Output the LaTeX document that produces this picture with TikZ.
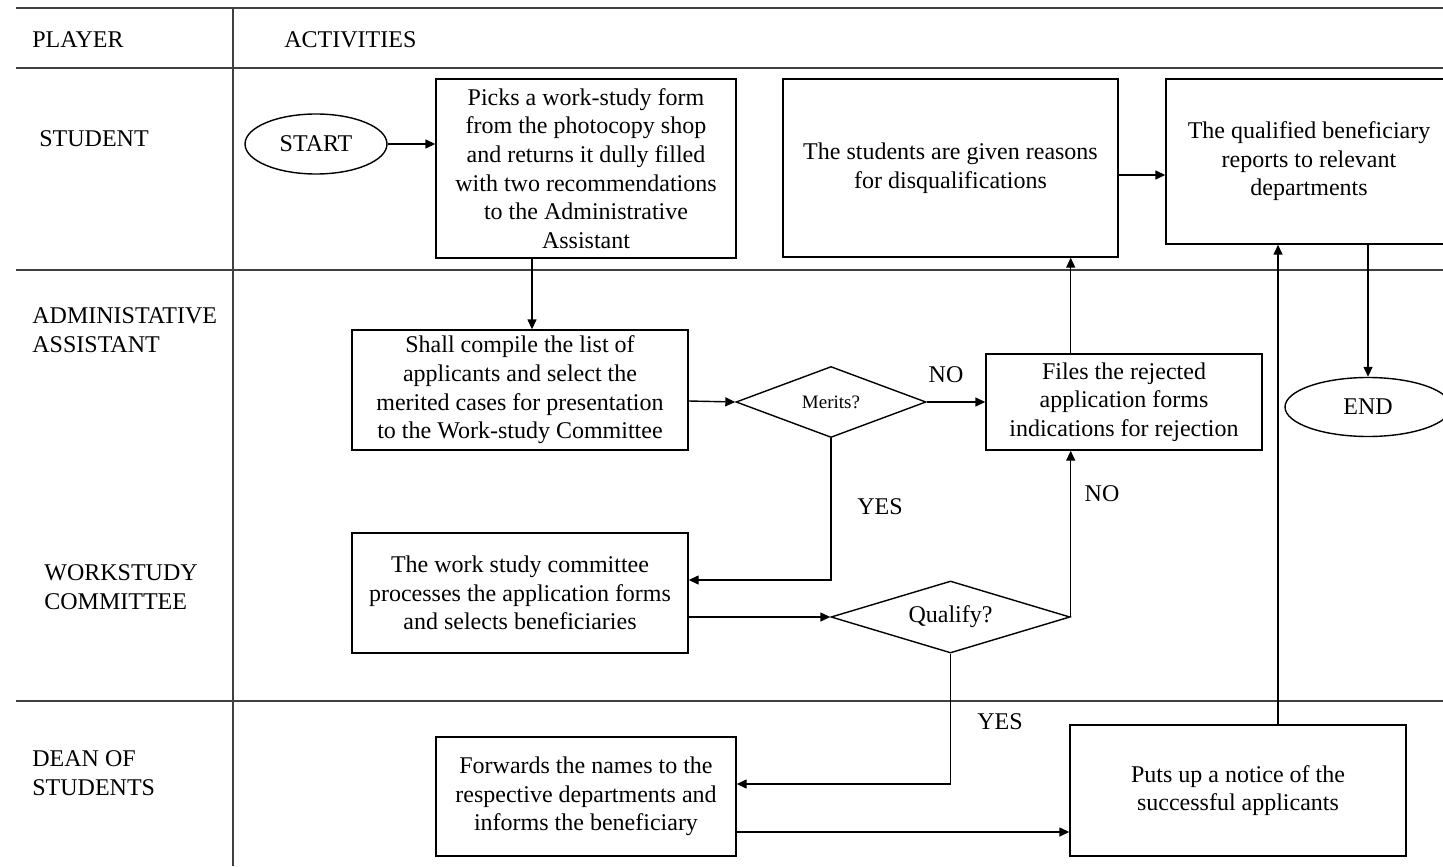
\documentclass[tikz,border=0pt]{standalone}
\usepackage{fontspec}
\setmainfont{Liberation Serif}
\usetikzlibrary{shapes.geometric,arrows.meta}
\begin{document}
\begin{tikzpicture}[x=0.5pt,y=-0.5pt,
  every node/.style={font=\fontsize{12}{14.3}\selectfont, text=black},
  lane/.style={draw=black!75, line width=1pt},
  box/.style={draw, line width=0.7pt, rectangle, align=center, inner sep=0pt},
  oval/.style={draw, line width=0.7pt, ellipse, inner sep=0pt},
  dec/.style={draw, line width=0.7pt, diamond, inner sep=0pt, align=center},
  arr/.style={draw, line width=0.7pt, -{Triangle[length=5pt,width=4.5pt]}},
  lbl/.style={anchor=west, align=left, inner sep=0pt}]
\useasboundingbox (0,0) rectangle (1443,866);
\clip (0,0) rectangle (1443,866);
% lanes
\draw[lane] (16,8) -- (1443,8);
\draw[lane] (16,68) -- (1443,68);
\draw[lane] (16,270) -- (1443,270);
\draw[lane] (16,701) -- (1443,701);
\draw[lane] (233,8) -- (233,866);
% lane labels
\node[lbl] (hplayer) at (32,40) {PLAYER};
\node[lbl] (hact) at (284,40) {ACTIVITIES};
\node[lbl] (lstudent) at (39,139) {STUDENT};
\node[lbl] (ladmin) at (32,330) {ADMINISTATIVE\\ASSISTANT};
\node[lbl] (lws) at (44,587) {WORKSTUDY\\COMMITTEE};
\node[lbl] (ldean) at (32,773) {DEAN OF\\STUDENTS};
% nodes
\node[oval, minimum width=71pt, minimum height=30pt] (start) at (316,144) {START};
\node[box, minimum width=150pt, minimum height=89.5pt] (picks) at (586,168.5)
  {Picks a work-study form\\from the photocopy shop\\and returns it dully filled\\with two recommendations\\to the Administrative\\Assistant};
\node[box, minimum width=167.5pt, minimum height=89pt] (reasons) at (950.5,168)
  {The students are given reasons\\for disqualifications};
\node[box, minimum width=143pt, minimum height=82.5pt] (qualified) at (1309,161.5)
  {The qualified beneficiary\\reports to relevant\\departments};
\node[oval, minimum width=83pt, minimum height=29.5pt] (end) at (1368,407) {END};
\node[box, minimum width=168pt, minimum height=60pt] (compile) at (520,390)
  {Shall compile the list of\\applicants and select the\\merited cases for presentation\\to the Work-study Committee};
\node[dec, minimum width=95pt, minimum height=35.5pt, shape aspect=2.7,
  font=\fontsize{9.5}{11}\selectfont] (merits) at (831,402) {Merits?};
\node[box, minimum width=138pt, minimum height=48pt] (files) at (1124,402)
  {Files the rejected\\application forms\\indications for rejection};
\node[box, minimum width=168pt, minimum height=60pt] (ws) at (520,593)
  {The work study committee\\processes the application forms\\and selects beneficiaries};
\node[dec, minimum width=119.5pt, minimum height=36pt, shape aspect=3.3] (qualify) at (950.5,617) {Qualify?};
\node[box, minimum width=150pt, minimum height=59.5pt] (forwards) at (586,796.5)
  {Forwards the names to the\\respective departments and\\informs the beneficiary};
\node[box, minimum width=168pt, minimum height=65.5pt] (puts) at (1238,790.5)
  {Puts up a notice of the\\successful applicants};
% helper coordinates
\coordinate (x532) at (532,0);
\coordinate (bendyes1) at (831,580);
\coordinate (bendyes2) at (950.5,784);
\coordinate (y175) at (0,175);
\coordinate (y832) at (0,832);
\coordinate (x1278) at (1278,0);
\coordinate (y401) at (0,401);
% connectors
\draw[arr] (start.east) -- (start.east -| picks.west);
\draw[arr] (picks.south -| x532) -- (compile.north -| x532);
\draw[arr] (compile.east |- y401) -- (merits.west);
\draw[arr] (merits.east) -- (files.west);
\draw[arr] (merits.south) -- (bendyes1) -- (bendyes1 -| ws.east);
\draw[arr] (ws.east |- qualify.west) -- (qualify.west);
\draw[arr] (qualify.east) -- (qualify.east |- files.south);
\draw[arr] (files.north -| qualify.east) -- (reasons.south -| qualify.east);
\draw[arr] (reasons.east |- y175) -- (qualified.west |- y175);
\draw[arr] (qualify.south) -- (bendyes2) -- (bendyes2 -| forwards.east);
\draw[arr] (forwards.east |- y832) -- (puts.west |- y832);
\draw[arr] (puts.north -| x1278) -- (qualified.south -| x1278);
\draw[arr] (qualified.south -| end.north) -- (end.north);
% labels
\node (lno1) at (946,375) {NO};
\node (lyes1) at (880,507) {YES};
\node (lno2) at (1102,494) {NO};
\node (lyes2) at (1000,722) {YES};
\end{tikzpicture}
\end{document}
